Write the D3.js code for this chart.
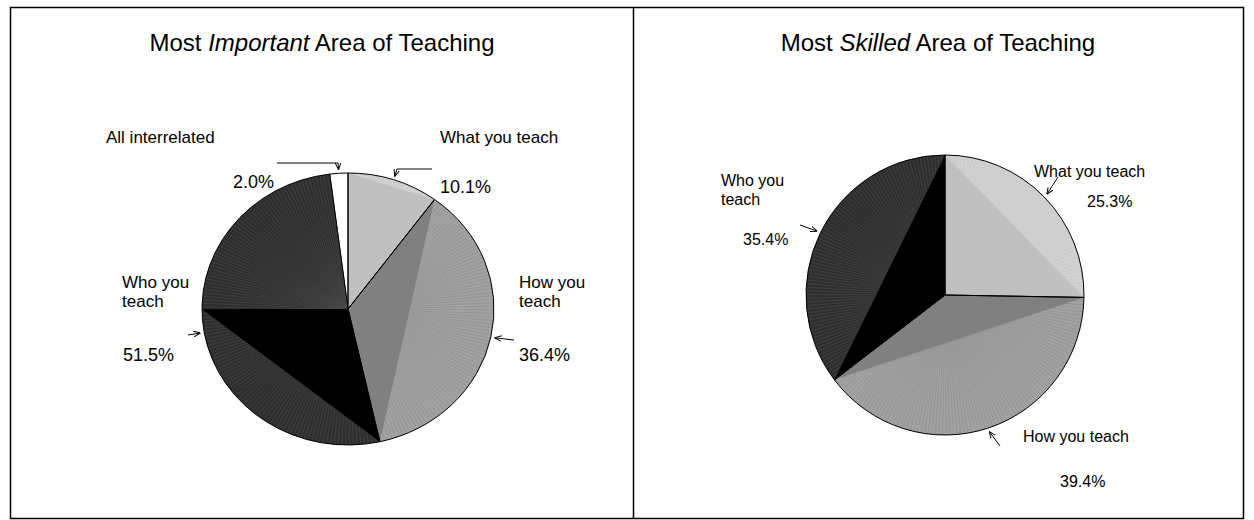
<!DOCTYPE html>
<meta charset="utf-8">
<script src="https://d3js.org/d3.v7.min.js"></script>
<style>
  body { margin: 0; background: #fff; }
  text { font-family: "Liberation Sans", Arial, sans-serif; fill: #000; }
</style>
<div id="chart"></div>
<script>

  // data
  const importantCategories = ["What you teach", "How you teach", "Who you teach", "All interrelated"];
  const importantValues = [10.1, 36.4, 51.5, 2.0];
  const skilledCategories = ["What you teach", "How you teach", "Who you teach"];
  const skilledValues = [25.3, 39.4, 35.4];

  var width = 1254, height = 520;
  var fmt = d3.format(".1f");

  var svg = d3.select("#chart").append("svg")
      .attr("width", width)
      .attr("height", height);

  // outer frame + divider
  svg.append("rect")
    .attr("x", 10.5).attr("y", 7.5)
    .attr("width", 1233).attr("height", 511)
    .attr("fill", "none").attr("stroke", "#000").attr("stroke-width", 1.5);
  svg.append("line")
    .attr("x1", 633.5).attr("x2", 633.5).attr("y1", 7.5).attr("y2", 518.5)
    .attr("stroke", "#000").attr("stroke-width", 1.5);

  // fills per category: solid triangle, fan area, fan line texture
  const shades = {
    "What you teach":   {tri: "#c0c0c0", fan: "#cdcdcd", line: "#d9d9d9"},
    "How you teach":    {tri: "#808080", fan: "#a2a2a2", line: "#8f8f8f"},
    "Who you teach":    {tri: "#000000", fan: "#2e2e2e", line: "#484848"},
    "All interrelated": {tri: "#ffffff", fan: "#ffffff", line: "#ffffff"}
  };

  svg.append("defs").append("marker")
    .attr("id", "arrow")
    .attr("viewBox", "0 0 10 10")
    .attr("refX", 9).attr("refY", 5)
    .attr("markerWidth", 7).attr("markerHeight", 7)
    .attr("orient", "auto-start-reverse")
    .append("path")
      .attr("d", "M0,1 L10,5 L0,9")
      .attr("fill", "none").attr("stroke", "#000").attr("stroke-width", 1.4);

  function drawTitle(cx, y, parts) {
    var t = svg.append("text")
      .attr("x", cx).attr("y", y)
      .attr("text-anchor", "middle")
      .attr("font-size", 24);
    parts.forEach(function(p) {
      t.append("tspan").attr("font-style", p[1] ? "italic" : "normal").text(p[0]);
    });
  }

  function drawPie(cfg) {
    var R = 100;
    var pie = d3.pie().sort(null).value(d => d.value);
    var arcs = pie(cfg.categories.map((c, i) => ({cat: c, value: cfg.values[i]})));
    var arc = d3.arc().innerRadius(0).outerRadius(R);
    var g = svg.append("g")
      .attr("transform", "translate(" + cfg.cx + "," + cfg.cy + ") scale(" + cfg.rx / R + "," + cfg.ry / R + ")");
    function pt(a, r) { return [r * Math.sin(a), -r * Math.cos(a)]; }

    arcs.forEach(function(d) {
      var s = shades[d.data.cat];
      // fan area
      g.append("path").attr("d", arc(d)).attr("fill", s.fan);
      // radial line texture
      var step = Math.PI / 240;
      for (var a = d.startAngle; a < d.endAngle; a += step * 2) {
        var p = pt(a, R);
        g.append("line")
          .attr("x1", 0).attr("y1", 0).attr("x2", p[0]).attr("y2", p[1])
          .attr("stroke", s.line).attr("stroke-width", 0.7)
          .attr("vector-effect", "non-scaling-stroke");
      }
      // solid triangle
      var span = d.endAngle - d.startAngle;
      var triEnd = span <= Math.PI ? d.endAngle : d.startAngle + span * 0.553;
      var p0 = pt(d.startAngle, R), p1 = pt(triEnd, R);
      g.append("path")
        .attr("d", "M0,0L" + p0 + "L" + p1 + "Z")
        .attr("fill", s.tri);
    });
    // outlines
    g.selectAll("path.outline")
      .data(arcs)
      .join("path")
      .attr("class", "outline")
      .attr("d", arc)
      .attr("fill", "none")
      .attr("stroke", "#000")
      .attr("stroke-width", 1)
      .attr("vector-effect", "non-scaling-stroke");

    // labels and leader lines
    arcs.forEach(function(d, i) {
      var L = cfg.labels[i];
      var name = svg.append("text").attr("font-size", cfg.fontSize);
      L.lines.forEach(function(line, j) {
        name.append("tspan").attr("x", L.x).attr("y", L.y + j * 19).text(line);
      });
      svg.append("text")
        .attr("x", L.px).attr("y", L.py)
        .attr("font-size", cfg.pctSize)
        .text(fmt(d.data.value) + "%");

      var mid = (d.startAngle + d.endAngle) / 2;
      var tip = [cfg.cx + cfg.rx * 1.03 * Math.sin(mid), cfg.cy - cfg.ry * 1.03 * Math.cos(mid)];
      var pts = L.leader.concat([tip]);
      svg.append("path")
        .attr("d", d3.line()(pts))
        .attr("fill", "none")
        .attr("stroke", "#000")
        .attr("stroke-width", 1)
        .attr("marker-end", "url(#arrow)");
    });
  }

  drawTitle(322, 51, [["Most ", false], ["Important", true], [" Area of Teaching", false]]);
  drawTitle(938, 51, [["Most ", false], ["Skilled", true], [" Area of Teaching", false]]);

  drawPie({
    cx: 348, cy: 309, rx: 146, ry: 136,
    categories: importantCategories, values: importantValues,
    fontSize: 17, pctSize: 18,
    labels: [
      {lines: ["What you teach"], x: 440, y: 143, px: 440, py: 193, leader: [[432, 169], [397, 169]]},
      {lines: ["How you", "teach"], x: 519, y: 288, px: 519, py: 361, leader: [[514, 340]]},
      {lines: ["Who you", "teach"], x: 122, y: 288, px: 123, py: 361, leader: [[188, 335]]},
      {lines: ["All interrelated"], x: 106, y: 143, px: 233, py: 188, leader: [[277, 163], [338, 163]]}
    ]
  });

  drawPie({
    cx: 945, cy: 295, rx: 139, ry: 140,
    categories: skilledCategories, values: skilledValues,
    fontSize: 16, pctSize: 16,
    labels: [
      {lines: ["What you teach"], x: 1034, y: 177, px: 1087, py: 207, leader: [[1058, 177]]},
      {lines: ["How you teach"], x: 1023, y: 442, px: 1060, py: 487, leader: [[1000, 446]]},
      {lines: ["Who you", "teach"], x: 721, y: 186, px: 743, py: 245, leader: [[800, 225]]}
    ]
  });

</script>
